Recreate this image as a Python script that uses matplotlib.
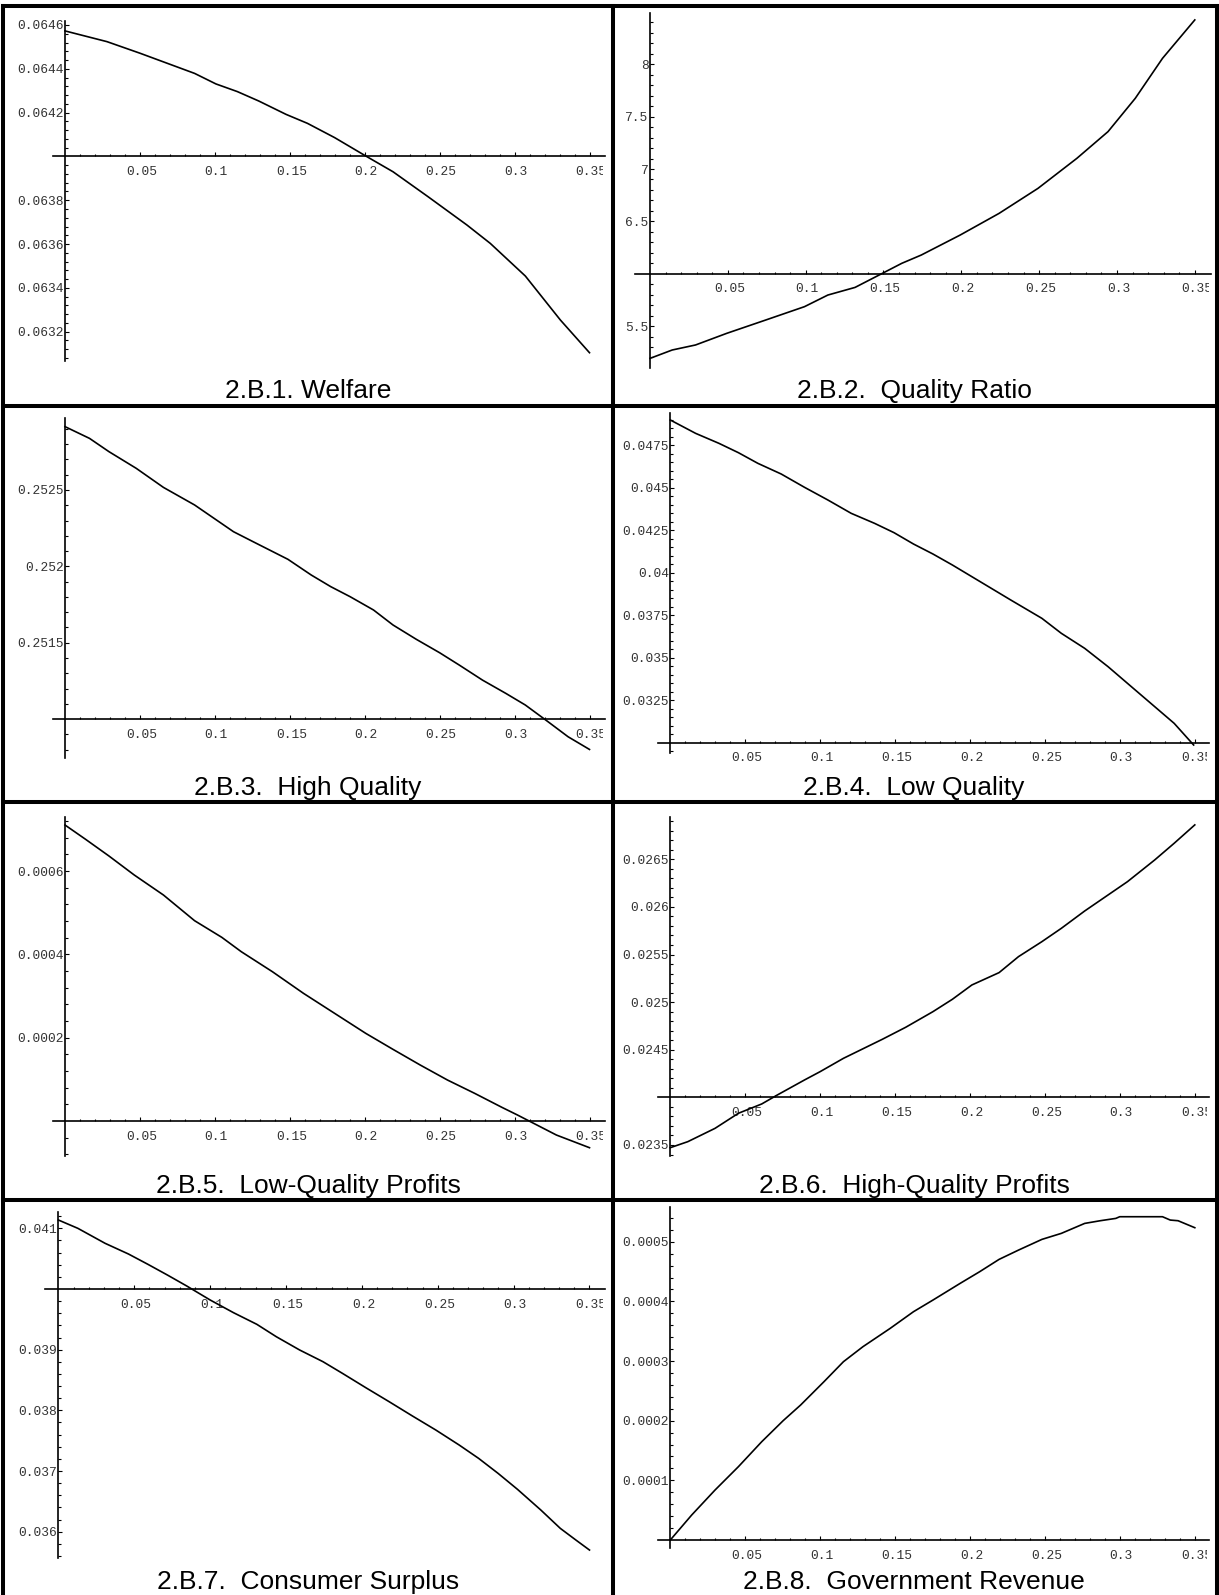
"""Eight Mathematica-style panels: effect of the policy parameter (0 to 0.35)."""

import matplotlib
matplotlib.use("Agg")
import matplotlib.pyplot as plt
import numpy as np
from matplotlib.lines import Line2D
from matplotlib.transforms import Bbox, ScaledTranslation, TransformedBbox

plt.rcParams["font.family"] = ["Liberation Mono", "DejaVu Sans Mono"]

W, H = 1219, 1595

# ---- data ----
welfare_x = [0, 0.0280, 0.0501, 0.0865, 0.1007, 0.1150, 0.1293, 0.1475, 0.1618, 0.1799,
             0.2007, 0.2189, 0.2423, 0.2682, 0.2838, 0.3072, 0.3306, 0.35]
welfare_y = [0.064573, 0.064524, 0.064471, 0.064379, 0.064331, 0.064296, 0.064253, 0.064192,
             0.064151, 0.064086, 0.064002, 0.063930, 0.063816, 0.063687, 0.063603, 0.063454,
             0.063253, 0.063104]

ratio_x = [0, 0.01425, 0.02925, 0.04925, 0.07425, 0.09925, 0.11425, 0.13175, 0.14925, 0.16175,
           0.17425, 0.19925, 0.22425, 0.24925, 0.27425, 0.29425, 0.31175, 0.32925, 0.35]
ratio_y = [5.191, 5.271, 5.319, 5.430, 5.557, 5.685, 5.796, 5.869, 6.003, 6.099,
           6.178, 6.369, 6.576, 6.815, 7.102, 7.357, 7.675, 8.057, 8.424]

high_x = [0, 0.01636, 0.02934, 0.04751, 0.06569, 0.08646, 0.11242, 0.12541, 0.14877, 0.16435,
          0.17734, 0.19032, 0.20590, 0.21888, 0.23446, 0.25004, 0.26302, 0.27860, 0.29418,
          0.30716, 0.32144, 0.33572, 0.35]
high_y = [0.252915, 0.252838, 0.252751, 0.252642, 0.252517, 0.252402, 0.252227, 0.252162,
          0.252046, 0.251943, 0.251867, 0.251801, 0.251714, 0.251616, 0.251522, 0.251434,
          0.251354, 0.251255, 0.251168, 0.251092, 0.250989, 0.250884, 0.250801]

low_x = [0, 0.01688, 0.03246, 0.04544, 0.05842, 0.07400, 0.08958, 0.10515, 0.12073, 0.13631,
         0.14929, 0.16228, 0.17526, 0.18824, 0.20122, 0.21420, 0.22719, 0.24796, 0.26094,
         0.27652, 0.29210, 0.30767, 0.32325, 0.33623, 0.34922]
low_y = [0.048971, 0.048186, 0.047598, 0.047049, 0.046422, 0.045794, 0.045010, 0.044265,
         0.043480, 0.042892, 0.042343, 0.041676, 0.041088, 0.040441, 0.039755, 0.039069,
         0.038382, 0.037304, 0.036422, 0.035539, 0.034461, 0.033284, 0.032108, 0.031127,
         0.029853]

lowprof_x = [0, 0.01376, 0.02934, 0.04622, 0.06569, 0.08646, 0.10464, 0.11762, 0.13839,
             0.15916, 0.17993, 0.20070, 0.21888, 0.23705, 0.25523, 0.27340, 0.29158,
             0.30197, 0.31495, 0.32793, 0.35]
lowprof_y = [0.0007104, 0.000676, 0.000636, 0.0005904, 0.0005424, 0.0004808, 0.0004408,
             0.0004064, 0.0003584, 0.0003064, 0.0002584, 0.0002104, 0.000172, 0.0001344,
             0.0000984, 0.0000664, 0.0000328, 0.0000144, -0.0000096, -0.0000336, -0.000064]

highprof_x = [0, 0.01168, 0.02986, 0.04544, 0.06102, 0.07140, 0.08958, 0.09996, 0.11554,
              0.14150, 0.15708, 0.17526, 0.18824, 0.20122, 0.21940, 0.23238, 0.24796,
              0.26094, 0.27652, 0.29210, 0.30508, 0.32325, 0.33623, 0.35]
highprof_y = [0.023472, 0.023535, 0.023675, 0.023833, 0.023931, 0.024025, 0.024183, 0.024270,
              0.024410, 0.024610, 0.024736, 0.024900, 0.025030, 0.025180, 0.025310, 0.025478,
              0.025635, 0.025775, 0.025957, 0.026125, 0.026265, 0.026493, 0.026668, 0.026861]

cs_x = [0, 0.01282, 0.03077, 0.04615, 0.05897, 0.07179, 0.08462, 0.10000, 0.11538, 0.13077,
        0.14359, 0.15897, 0.17436, 0.18718, 0.20256, 0.21795, 0.23333, 0.24872, 0.26410,
        0.27692, 0.28974, 0.30256, 0.31795, 0.33077, 0.34103, 0.35]
cs_y = [0.041137, 0.041000, 0.040753, 0.040577, 0.040407, 0.040231, 0.040049, 0.039819,
        0.039610, 0.039418, 0.039214, 0.038995, 0.038802, 0.038610, 0.038374, 0.038143,
        0.037907, 0.037676, 0.037429, 0.037209, 0.036962, 0.036698, 0.036357, 0.036055,
        0.035863, 0.035698]

gov_x = [0, 0.01428, 0.02986, 0.04544, 0.06102, 0.07530, 0.08698, 0.10256, 0.11554, 0.12852,
         0.14670, 0.16228, 0.17526, 0.19343, 0.20641, 0.21940, 0.23238, 0.24796, 0.26094,
         0.27652, 0.28691, 0.29729, 0.29989, 0.32844, 0.33364, 0.33883, 0.35]
gov_y = [0, 0.0000419, 0.0000838, 0.0001229, 0.0001648, 0.0002000, 0.0002263, 0.0002654,
         0.0002989, 0.0003240, 0.0003547, 0.0003827, 0.0004022, 0.0004302, 0.0004497,
         0.0004704, 0.0004860, 0.0005039, 0.0005140, 0.0005307, 0.0005352, 0.0005391,
         0.0005419, 0.0005419, 0.0005363, 0.0005352, 0.0005235]

x_major = [0.05, 0.1, 0.15, 0.2, 0.25, 0.3, 0.35]

# ---- panel settings: (title, x, y, y ticks, axis crossing, ylim, minor step) ----
panels = [
    ("2.B.1. Welfare", welfare_x, welfare_y,
     [0.0632, 0.0634, 0.0636, 0.0638, 0.0642, 0.0644, 0.0646], 0.064,
     (0.0630662, 0.0646196), 0.00004),
    ("2.B.2.  Quality Ratio", ratio_x, ratio_y,
     [5.5, 6.5, 7, 7.5, 8], 6.0, (5.102, 8.493), 0.1),
    ("2.B.3.  High Quality", high_x, high_y,
     [0.2515, 0.252, 0.2525], 0.251, (0.250743, 0.2529695), 0.0001),
    ("2.B.4.  Low Quality", low_x, low_y,
     [0.0325, 0.035, 0.0375, 0.04, 0.0425, 0.045, 0.0475], 0.03, (0.0294, 0.049365), 0.0005),
    ("2.B.5.  Low-Quality Profits", lowprof_x, lowprof_y,
     [0.0002, 0.0004, 0.0006], 0.0, (-0.0000839, 0.0007289), 0.00004),
    ("2.B.6.  High-Quality Profits", highprof_x, highprof_y,
     [0.0235, 0.0245, 0.025, 0.0255, 0.026, 0.0265], 0.024, (0.0233845, 0.026947), 0.0001),
    ("2.B.7.  Consumer Surplus", cs_x, cs_y,
     [0.036, 0.037, 0.038, 0.039, 0.041], 0.04, (0.035562, 0.041274), 0.0002),
    ("2.B.8.  Government Revenue", gov_x, gov_y,
     [0.0001, 0.0002, 0.0003, 0.0004, 0.0005], 0.0, (-0.0000139, 0.0005577), 0.00002),
]

# pixel layout: axes box (left, top, right, bottom), pixel of x=0 and x=0.35
boxes = [
    ((52.5, 20.7, 605, 361), 65, 589.5),
    ((635.3, 12.7, 1211, 367.7), 650, 1194.8),
    ((52.5, 418.3, 605, 758.3), 65, 589.5),
    ((657.5, 413.3, 1209, 752.7), 670.3, 1194.8),
    ((52.5, 817.3, 605, 1156), 65, 589.5),
    ((657.5, 816.7, 1209, 1156), 670.3, 1194.8),
    ((44.7, 1211.7, 605, 1558.3), 58.4, 589.5),
    ((657.5, 1207.3, 1209, 1548.3), 670.3, 1194.8),
]
col_edges = [5, 611, 615, 1215]
row_edges = [8, 403.5, 407.5, 800, 804, 1198, 1202, 1595]
caption_base = [398, 795, 1193, 1589]
col_center = [308, 914]


def minor_ticks(lo, hi, step, skip):
    vals = np.arange(np.ceil(lo / step) * step, hi, step)
    return [v for v in vals if all(abs(v - s) > step * 0.2 for s in skip)]


fig = plt.figure(figsize=(W / 100, H / 100), dpi=100)
shift = ScaledTranslation(1.5 / 100, 0, fig.dpi_scale_trans)

for i, (title, xs, ys, yt, cross, ylim, ystep) in enumerate(panels):
    (l, t, r, b), x0, x35 = boxes[i]
    ax = fig.add_axes([l / W, 1 - b / H, (r - l) / W, (b - t) / H])
    ax.patch.set_visible(False)
    s = 0.35 / (x35 - x0)
    ax.set_xlim((l - x0) * s, (r - x0) * s)
    ax.set_ylim(*ylim)

    ax.plot(xs, ys, color="black", lw=1.2, solid_joinstyle="round")

    for side in ("top", "right"):
        ax.spines[side].set_visible(False)
    ax.spines["left"].set_position(("data", 0.0))
    ax.spines["bottom"].set_position(("data", cross))
    for side in ("left", "bottom"):
        ax.spines[side].set_linewidth(1.2)

    ax.set_xticks(x_major, [f"{v:g}" for v in x_major])
    ax.set_xticks(minor_ticks(0.005, 0.351, 0.01, x_major), minor=True)
    ax.set_yticks(yt, [f"{v:g}" for v in yt])
    ax.set_yticks(minor_ticks(ylim[0], ylim[1], ystep, yt + [cross]), minor=True)

    ax.tick_params(which="both", direction="in", width=0.8, labelsize=9.3, labelcolor="#333333")
    ax.tick_params(which="major", length=3.2)
    ax.tick_params(which="minor", length=1.8)
    ax.tick_params(axis="y", pad=1)
    ax.tick_params(axis="x", pad=7)

    # clip tick labels to the plot frame, as in the original graphics
    c = i % 2
    rr = i // 2
    clip = TransformedBbox(Bbox([[col_edges[2 * c] / W, 1 - row_edges[2 * rr + 1] / H],
                                 [(r - 2) / W, 1 - row_edges[2 * rr] / H]]), fig.transFigure)
    for tick in ax.xaxis.get_major_ticks():
        tick.label1.set_transform(tick.label1.get_transform() + shift)
    for tick in ax.xaxis.get_major_ticks() + ax.yaxis.get_major_ticks():
        tick.label1.set_clip_box(clip)
        tick.label1.set_clip_on(True)

    fig.text(col_center[c] / W, 1 - caption_base[rr] / H, title, ha="center", va="baseline",
             fontsize=19, family="Liberation Sans")

# frame lines
lw = 2.9
frame = [
    ((3, 6), (1217, 6)),
    ((3, 6), (3, 1600)),
    ((1217, 6), (1217, 1600)),
    ((613, 6), (613, 1600)),
    ((3, 405.5), (1217, 405.5)),
    ((3, 802), (1217, 802)),
    ((3, 1200), (1217, 1200)),
]
for (xa, ya), (xb, yb) in frame:
    fig.add_artist(Line2D([xa / W, xb / W], [1 - ya / H, 1 - yb / H], transform=fig.transFigure,
                          color="black", lw=lw, solid_capstyle="projecting", zorder=5))

fig.savefig("out.png", dpi=100)
